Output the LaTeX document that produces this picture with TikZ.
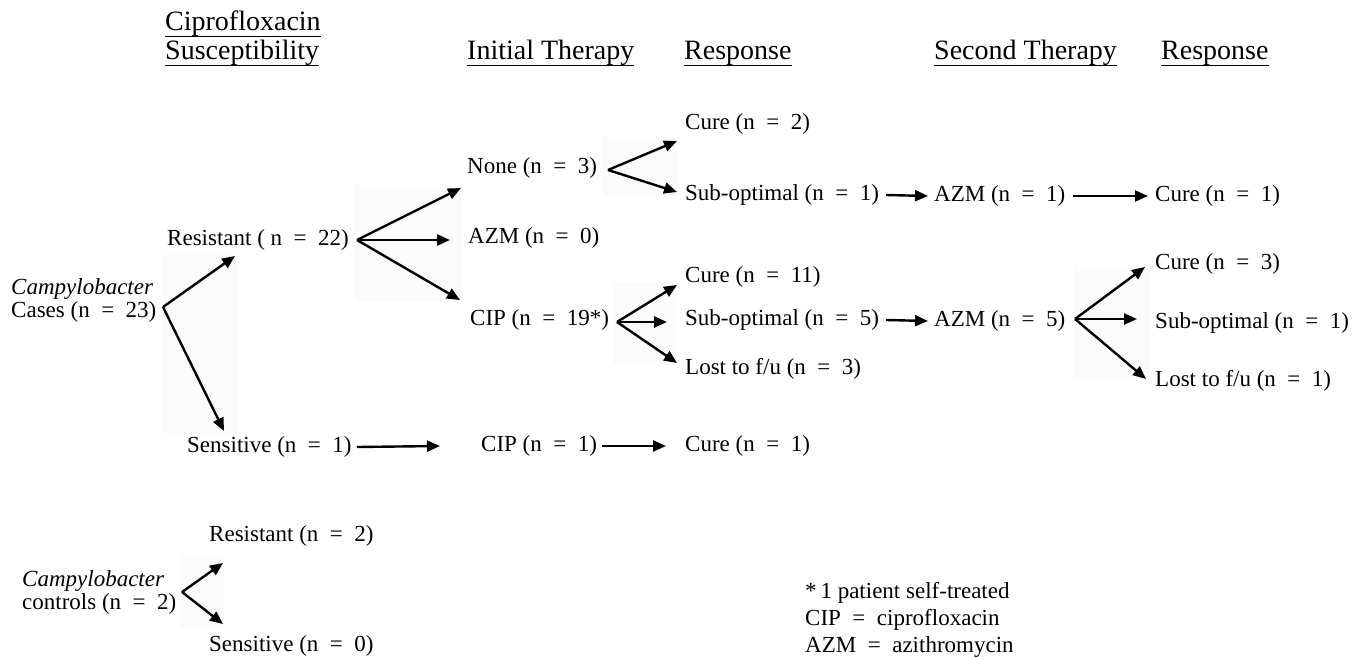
\documentclass[tikz,border=0pt]{standalone}
\usepackage{fontspec}
\setmainfont{Liberation Serif}
\usetikzlibrary{arrows.meta,calc}
\newcommand\Eq{\hspace{0.5em}=\hspace{0.5em}}
\newcommand\hul[1]{\setbox0\hbox{#1}\rlap{\rule[-6.5pt]{\wd0}{1.6pt}}\box0}
\tikzset{
  txt/.style={inner sep=0pt, anchor=west, font=\fontsize{23}{23}\selectfont},
  hdr/.style={inner sep=0pt, anchor=base west, font=\fontsize{28}{30}\selectfont},
  arr/.style={line width=2.4pt, -{Triangle[length=13pt,width=11pt]}},
  bg/.style={fill=black!1.5, draw=none},
}
\begin{document}
\begin{tikzpicture}[x=1pt,y=1pt]
\useasboundingbox (0,0) rectangle (1362,-658);
% faint backgrounds behind the fans
\fill[bg] (161,-255) rectangle (237,-433);
\fill[bg] (355,-185) rectangle (463,-302);
\fill[bg] (603,-137) rectangle (678,-195);
\fill[bg] (613,-282) rectangle (676,-365);
\fill[bg] (1073,-265) rectangle (1150,-381);
\fill[bg] (180,-553) rectangle (224,-627);
% headers
\node[hdr] (h1) at (165,-31) {\hul{Ciprofloxacin}};
\node[hdr] (h2) at (165,-60) {\hul{Susceptibility}};
\node[hdr] (h3) at (467,-60) {\hul{Initial Therapy}};
\node[hdr] (h4) at (684,-60) {\hul{Response}};
\node[hdr] (h5) at (934,-60) {\hul{Second Therapy}};
\node[hdr] (h6) at (1161,-60) {\hul{Response}};
% nodes
\node[txt, align=left] (cases) at (11,-300) {\textit{Campylobacter}\\Cases (n\Eq23)};
\node[txt] (res22) at (167,-240) {Resistant ( n\Eq22)};
\node[txt] (sens1) at (187,-447) {Sensitive (n\Eq1)};
\node[txt] (none3) at (467,-168) {None (n\Eq3)};
\node[txt] (azm0) at (468,-238) {AZM (n\Eq0)};
\node[txt] (cip19) at (470,-320) {CIP (n\Eq19*)};
\node[txt] (cip1) at (481,-446) {CIP (n\Eq1)};
\node[txt] (cure2) at (685,-124) {Cure (n\Eq2)};
\node[txt] (sub1) at (685,-195) {Sub-optimal (n\Eq1)};
\node[txt] (cure11) at (685,-277) {Cure (n\Eq11)};
\node[txt] (sub5) at (685,-320) {Sub-optimal (n\Eq5)};
\node[txt] (lost3) at (685,-369) {Lost to f/u (n\Eq3)};
\node[txt] (cureb) at (685,-446) {Cure (n\Eq1)};
\node[txt] (azm1) at (934,-196) {AZM (n\Eq1)};
\node[txt] (azm5) at (934,-321) {AZM (n\Eq5)};
\node[txt] (cure1) at (1155,-196) {Cure (n\Eq1)};
\node[txt] (cure3) at (1155,-264) {Cure (n\Eq3)};
\node[txt] (subb) at (1155,-323) {Sub-optimal (n\Eq1)};
\node[txt] (lost1) at (1155,-381) {Lost to f/u (n\Eq1)};
\node[txt, align=left] (ctrl) at (22,-592) {\textit{Campylobacter}\\controls (n\Eq2)};
\node[txt] (res2) at (209,-536) {Resistant (n\Eq2)};
\node[txt] (sens0) at (209,-646) {Sensitive (n\Eq0)};
\node[txt, align=left, font=\fontsize{23}{27}\selectfont] (note) at (805,-620) {*\,1 patient self-treated\\CIP\Eq ciprofloxacin\\AZM\Eq azithromycin};
% connector points
\coordinate (vc) at (163,-307);
\coordinate (tc1) at (235,-256);
\coordinate (tc2) at (224,-431);
\coordinate (vr) at (357,-240);
\coordinate (tr1) at (461,-188);
\coordinate (tr2) at (450,-240);
\coordinate (tr3) at (460,-300);
\coordinate (vn) at (608,-170);
\coordinate (tn1) at (677,-141);
\coordinate (tn2) at (677,-192);
\coordinate (vp) at (617,-322);
\coordinate (tp1) at (677,-285);
\coordinate (tp2) at (667,-322);
\coordinate (tp3) at (677,-363);
\coordinate (va) at (1075,-319);
\coordinate (ta1) at (1145,-267);
\coordinate (ta2) at (1137,-319);
\coordinate (ta3) at (1146,-379);
\coordinate (vk) at (182,-592);
\coordinate (tk1) at (223,-563);
\coordinate (tk2) at (223,-624);
% arrows
\draw[arr] (vc) -- (tc1);
\draw[arr] (vc) -- (tc2);
\draw[arr] (vr) -- (tr1);
\draw[arr] (vr) -- (tr2);
\draw[arr] (vr) -- (tr3);
\draw[arr] (vn) -- (tn1);
\draw[arr] (vn) -- (tn2);
\draw[arr] (vp) -- (tp1);
\draw[arr] (vp) -- (tp2);
\draw[arr] (vp) -- (tp3);
\draw[arr] (va) -- (ta1);
\draw[arr] (va) -- (ta2);
\draw[arr] (va) -- (ta3);
\draw[arr] (vk) -- (tk1);
\draw[arr] (vk) -- (tk2);
\draw[arr] ([xshift=5pt]sens1.east) -- ([xshift=-41pt]cip1.west);
\draw[arr] ([xshift=5pt]cip1.east) -- ([xshift=-19pt]cureb.west);
\draw[arr] ([xshift=7pt]sub1.east) -- ([xshift=-6pt]azm1.west);
\draw[arr] ([xshift=7pt]azm1.east) -- ([xshift=-7pt]cure1.west);
\draw[arr] ([xshift=7pt]sub5.east) -- ([xshift=-6pt]azm5.west);
\end{tikzpicture}
\end{document}
